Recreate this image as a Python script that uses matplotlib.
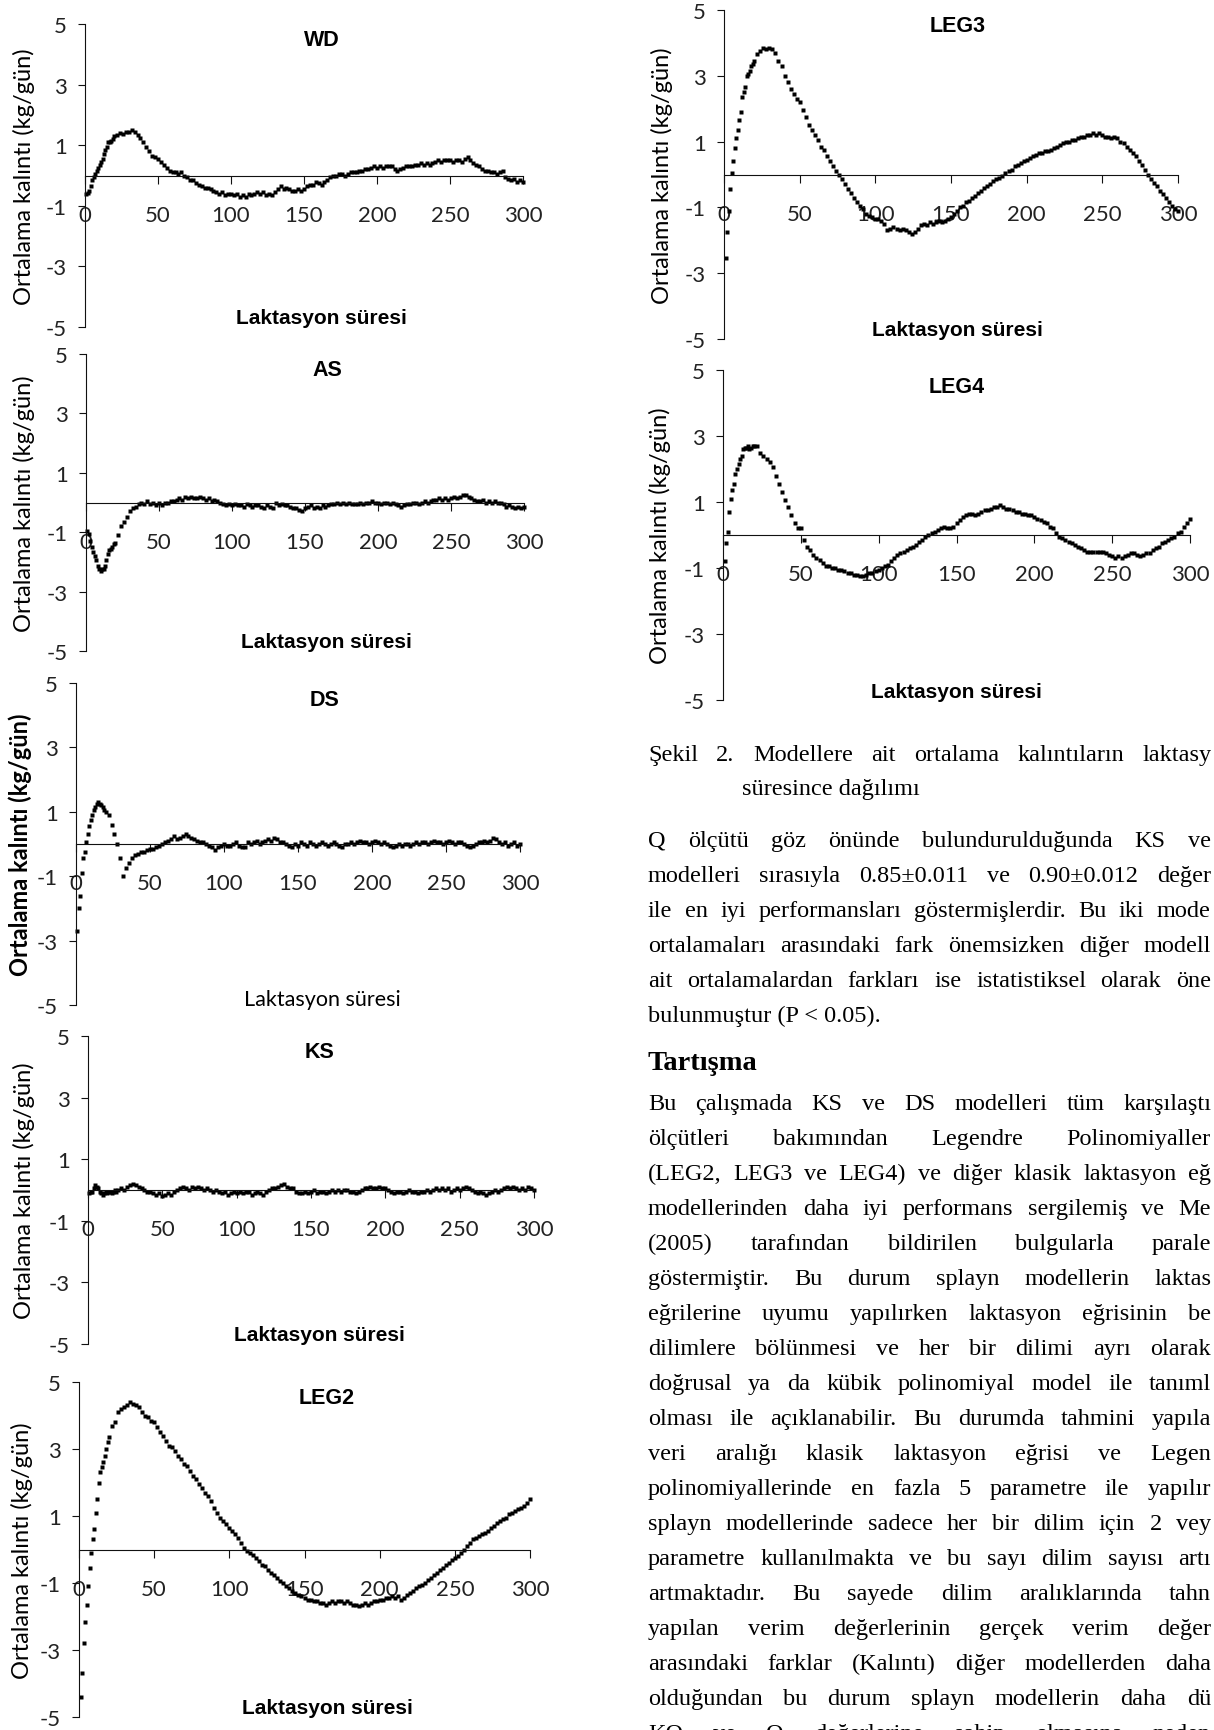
import matplotlib
matplotlib.use("Agg")
import matplotlib.pyplot as plt
import numpy as np
from matplotlib.font_manager import FontProperties
from matplotlib.textpath import TextToPath

plt.rcParams['axes.unicode_minus'] = False

W, H = 1214, 1731

# lactation day of each residual (daily up to day 20, then every second day)
days = list(range(1, 21)) + list(range(22, 301, 2))

wd = [-0.60, -0.58, -0.50, -0.35, -0.15, -0.05, 0.05, 0.15, 0.25, 0.35,
      0.45, 0.55, 0.70, 0.85, 0.95, 1.10, 1.12, 1.15, 1.20, 1.30,
      1.35, 1.40, 1.38, 1.42, 1.45, 1.50, 1.45, 1.35, 1.25, 1.10,
      0.95, 0.80, 0.65, 0.60, 0.55, 0.45, 0.35, 0.25, 0.15, 0.10,
      0.10, 0.05, 0.10, 0.00, -0.05, -0.15, -0.15, -0.25, -0.30, -0.35,
      -0.40, -0.40, -0.45, -0.50, -0.55, -0.60, -0.55, -0.65, -0.60, -0.60,
      -0.65, -0.60, -0.70, -0.65, -0.70, -0.60, -0.65, -0.60, -0.55, -0.60,
      -0.55, -0.65, -0.60, -0.65, -0.55, -0.45, -0.35, -0.45, -0.40, -0.45,
      -0.50, -0.50, -0.45, -0.50, -0.45, -0.35, -0.30, -0.30, -0.20, -0.25,
      -0.30, -0.20, -0.15, -0.05, 0.00, 0.00, 0.05, 0.05, 0.00, 0.05,
      0.10, 0.10, 0.10, 0.15, 0.15, 0.20, 0.20, 0.25, 0.30, 0.25,
      0.30, 0.25, 0.30, 0.30, 0.30, 0.20, 0.15, 0.20, 0.25, 0.30,
      0.30, 0.30, 0.35, 0.35, 0.40, 0.35, 0.40, 0.35, 0.40, 0.45,
      0.50, 0.45, 0.50, 0.50, 0.50, 0.45, 0.50, 0.50, 0.45, 0.55,
      0.60, 0.50, 0.40, 0.35, 0.30, 0.20, 0.15, 0.15, 0.10, 0.10,
      0.05, 0.10, 0.15, -0.05, -0.10, -0.15, -0.10, -0.20, -0.15, -0.20]

as_ = [-0.95, -1.05, -1.30, -1.50, -1.65, -1.80, -1.95, -2.15, -2.25, -2.30,
       -2.25, -2.25, -2.15, -1.95, -1.75, -1.60, -1.55, -1.50, -1.40, -1.35,
       -1.10, -0.80, -0.65, -0.50, -0.30, -0.20, -0.15, -0.05, 0.00, -0.05,
       0.05, -0.05, 0.00, -0.10, 0.00, -0.10, 0.00, 0.00, 0.05, 0.05,
       0.10, 0.15, 0.10, 0.20, 0.15, 0.20, 0.15, 0.15, 0.20, 0.15,
       0.10, 0.15, 0.05, 0.10, 0.05, 0.00, -0.05, -0.10, -0.05, -0.10,
       -0.05, -0.10, -0.10, -0.15, -0.05, -0.10, -0.15, -0.10, -0.10, -0.15,
       -0.20, -0.10, -0.15, -0.20, 0.00, -0.10, -0.05, -0.10, -0.10, -0.15,
       -0.20, -0.20, -0.25, -0.30, -0.20, -0.15, -0.10, -0.20, -0.15, -0.20,
       -0.10, -0.15, -0.10, -0.05, -0.05, 0.00, -0.05, 0.00, -0.05, 0.00,
       -0.05, -0.05, -0.05, 0.00, -0.05, 0.00, 0.00, 0.05, 0.00, 0.00,
       -0.05, 0.00, 0.00, -0.05, 0.00, -0.05, -0.10, -0.15, -0.10, -0.05,
       -0.05, 0.00, 0.00, -0.05, 0.00, 0.05, 0.00, 0.05, 0.10, 0.10,
       0.15, 0.10, 0.15, 0.10, 0.15, 0.20, 0.15, 0.20, 0.25, 0.25,
       0.20, 0.15, 0.10, 0.05, 0.05, 0.10, 0.00, 0.05, 0.00, 0.05,
       0.00, 0.00, -0.05, -0.15, -0.10, -0.15, -0.20, -0.15, -0.20, -0.15]

ds = [-2.70, -2.00, -1.60, -0.90, -0.45, -0.25, 0.05, 0.30, 0.55, 0.75,
      0.90, 1.05, 1.15, 1.25, 1.30, 1.25, 1.20, 1.15, 1.05, 1.00,
      0.90, 0.60, 0.30, 0.00, -0.45, -1.00, -0.75, -0.60, -0.45, -0.35,
      -0.30, -0.25, -0.25, -0.20, -0.15, -0.15, -0.10, -0.05, 0.00, 0.05,
      0.10, 0.15, 0.25, 0.15, 0.20, 0.25, 0.30, 0.25, 0.20, 0.15,
      0.10, 0.05, 0.05, 0.00, -0.05, -0.10, -0.20, -0.10, -0.05, 0.00,
      -0.05, -0.05, 0.00, 0.05, -0.05, -0.10, -0.10, 0.05, 0.00, 0.05,
      0.10, 0.00, 0.05, 0.10, 0.15, 0.10, 0.20, 0.15, 0.05, 0.05,
      0.00, -0.05, -0.10, 0.00, -0.05, 0.05, 0.00, -0.05, 0.05, 0.00,
      -0.05, 0.00, 0.05, 0.00, -0.05, 0.00, 0.05, 0.00, -0.05, -0.10,
      0.00, 0.00, 0.05, 0.00, 0.05, 0.10, 0.05, 0.05, 0.00, 0.05,
      0.10, 0.05, 0.00, 0.05, 0.00, -0.05, -0.10, -0.05, 0.00, -0.05,
      0.00, 0.00, -0.05, 0.00, 0.05, 0.00, 0.05, 0.05, 0.00, 0.05,
      0.10, 0.05, 0.05, 0.00, 0.05, 0.10, 0.05, 0.00, 0.05, 0.05,
      0.00, -0.05, -0.10, -0.05, 0.00, 0.05, 0.05, 0.10, 0.05, 0.10,
      0.20, 0.15, 0.05, 0.00, 0.05, -0.05, 0.00, 0.05, -0.05, 0.00]

ks = [-0.10, -0.05, -0.05, 0.05, 0.15, 0.10, 0.05, -0.05, -0.10, -0.15,
      -0.10, -0.05, -0.10, -0.05, -0.05, -0.10, -0.05, 0.00, -0.05, 0.00,
      0.05, 0.00, 0.10, 0.15, 0.20, 0.15, 0.10, 0.05, 0.00, -0.05,
      -0.05, -0.10, -0.15, -0.10, -0.20, -0.15, -0.10, -0.15, -0.05, 0.00,
      0.05, 0.10, 0.05, 0.00, 0.10, 0.05, 0.10, 0.05, 0.00, 0.05,
      0.00, -0.05, 0.00, -0.05, -0.10, -0.05, -0.15, -0.10, -0.05, -0.10,
      -0.05, -0.10, -0.05, -0.05, -0.15, -0.10, -0.05, -0.10, -0.15, -0.05,
      0.00, 0.05, 0.05, 0.10, 0.15, 0.20, 0.10, 0.05, 0.05, -0.05,
      -0.10, -0.10, -0.05, -0.10, -0.05, 0.00, -0.10, -0.05, -0.05, -0.10,
      -0.05, 0.00, -0.05, 0.00, -0.05, 0.00, 0.00, -0.05, -0.05, -0.10,
      -0.05, 0.00, 0.05, 0.05, 0.10, 0.05, 0.05, 0.10, 0.05, 0.05,
      0.00, -0.05, -0.10, -0.05, -0.05, -0.10, -0.05, 0.00, -0.05, -0.05,
      -0.10, -0.05, -0.05, 0.00, -0.05, 0.00, 0.05, 0.00, 0.05, 0.00,
      0.05, -0.05, 0.00, 0.05, 0.00, 0.05, 0.10, 0.05, 0.00, -0.05,
      -0.10, -0.05, -0.10, -0.15, -0.10, -0.05, 0.00, -0.05, 0.00, 0.05,
      0.10, 0.05, 0.10, 0.05, 0.00, 0.05, 0.00, 0.10, 0.05, 0.00]

leg2 = [-4.40, -3.70, -2.80, -2.15, -1.65, -1.10, -0.55, -0.10, 0.30, 0.60,
        1.10, 1.50, 2.00, 2.30, 2.45, 2.60, 2.80, 3.00, 3.20, 3.35,
        3.70, 3.80, 4.10, 4.20, 4.25, 4.30, 4.40, 4.35, 4.30, 4.25,
        4.10, 4.00, 3.95, 3.85, 3.80, 3.65, 3.50, 3.40, 3.25, 3.10,
        3.05, 2.95, 2.80, 2.70, 2.55, 2.50, 2.35, 2.20, 2.10, 1.95,
        1.85, 1.70, 1.60, 1.45, 1.25, 1.10, 0.95, 0.85, 0.75, 0.65,
        0.55, 0.45, 0.35, 0.20, 0.05, -0.05, -0.10, -0.15, -0.25, -0.35,
        -0.45, -0.50, -0.60, -0.70, -0.75, -0.85, -0.95, -1.00, -1.10, -1.15,
        -1.25, -1.30, -1.35, -1.40, -1.45, -1.50, -1.50, -1.55, -1.55, -1.60,
        -1.60, -1.65, -1.60, -1.55, -1.60, -1.55, -1.55, -1.60, -1.55, -1.60,
        -1.65, -1.65, -1.70, -1.65, -1.60, -1.65, -1.60, -1.55, -1.55, -1.50,
        -1.50, -1.45, -1.45, -1.40, -1.45, -1.40, -1.50, -1.45, -1.35, -1.30,
        -1.25, -1.15, -1.10, -1.05, -1.00, -0.90, -0.85, -0.75, -0.70, -0.60,
        -0.55, -0.45, -0.40, -0.30, -0.25, -0.20, -0.10, 0.00, 0.10, 0.20,
        0.30, 0.35, 0.40, 0.45, 0.50, 0.55, 0.65, 0.70, 0.80, 0.85,
        0.90, 0.95, 1.05, 1.10, 1.15, 1.20, 1.25, 1.30, 1.40, 1.50]

leg3 = [-2.55, -1.75, -1.10, -0.45, 0.05, 0.40, 0.80, 1.10, 1.35, 1.65,
        1.90, 2.35, 2.50, 2.65, 3.00, 3.05, 3.15, 3.30, 3.35, 3.45,
        3.65, 3.75, 3.85, 3.80, 3.85, 3.80, 3.70, 3.45, 3.30, 3.00,
        2.80, 2.60, 2.45, 2.30, 2.20, 1.95, 1.75, 1.50, 1.35, 1.20,
        1.05, 0.85, 0.75, 0.55, 0.40, 0.25, 0.10, 0.00, -0.15, -0.30,
        -0.45, -0.55, -0.70, -0.85, -0.95, -1.05, -1.20, -1.25, -1.30, -1.35,
        -1.35, -1.40, -1.50, -1.70, -1.65, -1.60, -1.65, -1.70, -1.65, -1.70,
        -1.75, -1.80, -1.75, -1.65, -1.55, -1.50, -1.55, -1.45, -1.50, -1.45,
        -1.40, -1.45, -1.40, -1.35, -1.30, -1.20, -1.10, -1.00, -0.95, -0.85,
        -0.80, -0.70, -0.65, -0.55, -0.50, -0.40, -0.35, -0.30, -0.20, -0.15,
        -0.10, -0.05, 0.05, 0.10, 0.15, 0.25, 0.30, 0.35, 0.40, 0.45,
        0.50, 0.55, 0.60, 0.65, 0.65, 0.70, 0.70, 0.75, 0.80, 0.85,
        0.90, 0.95, 1.00, 1.00, 1.05, 1.05, 1.10, 1.15, 1.15, 1.20,
        1.20, 1.25, 1.20, 1.25, 1.20, 1.15, 1.15, 1.10, 1.15, 1.10,
        1.00, 0.95, 0.85, 0.75, 0.65, 0.55, 0.40, 0.30, 0.15, 0.00,
        -0.15, -0.25, -0.35, -0.50, -0.60, -0.70, -0.85, -0.95, -1.05, -1.10]

leg4 = [-0.80, -0.25, 0.10, 0.70, 1.10, 1.35, 1.55, 1.85, 2.00, 2.15,
        2.30, 2.40, 2.60, 2.65, 2.65, 2.70, 2.60, 2.65, 2.70, 2.70,
        2.70, 2.50, 2.40, 2.30, 2.20, 2.05, 1.80, 1.55, 1.30, 1.05,
        0.85, 0.60, 0.35, 0.20, 0.20, -0.15, -0.35, -0.45, -0.60, -0.70,
        -0.75, -0.85, -0.95, -0.95, -1.00, -1.00, -1.05, -1.05, -1.10, -1.15,
        -1.15, -1.20, -1.20, -1.25, -1.25, -1.20, -1.15, -1.15, -1.10, -1.05,
        -1.00, -0.95, -0.90, -0.80, -0.70, -0.60, -0.55, -0.50, -0.45, -0.40,
        -0.35, -0.30, -0.20, -0.15, -0.05, 0.00, 0.05, 0.10, 0.15, 0.20,
        0.25, 0.20, 0.20, 0.25, 0.35, 0.45, 0.55, 0.60, 0.65, 0.65,
        0.60, 0.65, 0.70, 0.75, 0.75, 0.80, 0.85, 0.85, 0.90, 0.85,
        0.80, 0.80, 0.75, 0.70, 0.70, 0.65, 0.65, 0.60, 0.60, 0.55,
        0.50, 0.45, 0.40, 0.35, 0.25, 0.20, 0.05, -0.05, -0.10, -0.15,
        -0.20, -0.25, -0.30, -0.35, -0.40, -0.45, -0.50, -0.50, -0.50, -0.50,
        -0.50, -0.50, -0.55, -0.60, -0.65, -0.70, -0.65, -0.70, -0.65, -0.60,
        -0.55, -0.55, -0.60, -0.65, -0.60, -0.55, -0.55, -0.45, -0.40, -0.35,
        -0.25, -0.20, -0.15, -0.10, -0.05, 0.05, 0.10, 0.25, 0.35, 0.50]

x_ticks = [0, 50, 100, 150, 200, 250, 300]
y_ticks = [-5, -3, -1, 1, 3, 5]
ylabel = "Ortalama kalıntı (kg/gün)"
xlabel = "Laktasyon süresi"

# the right column of the page, as much of each line as the page shows
caption = ["Şekil 2. Modellere ait ortalama kalıntıların laktasy",
           "süresince dağılımı"]
para1 = ["Q ölçütü göz önünde bulundurulduğunda KS ve",
         "modelleri sırasıyla 0.85±0.011 ve 0.90±0.012 değer",
         "ile en iyi performansları göstermişlerdir. Bu iki mode",
         "ortalamaları arasındaki fark önemsizken diğer modell",
         "ait ortalamalardan farkları ise istatistiksel olarak öne",
         "bulunmuştur (P < 0.05)."]
heading = "Tartışma"
para2 = ["Bu çalışmada KS ve DS modelleri tüm karşılaştı",
         "ölçütleri bakımından Legendre Polinomiyaller",
         "(LEG2, LEG3 ve LEG4) ve diğer klasik laktasyon eğ",
         "modellerinden daha iyi performans sergilemiş ve Me",
         "(2005) tarafından bildirilen bulgularla parale",
         "göstermiştir. Bu durum splayn modellerin laktas",
         "eğrilerine uyumu yapılırken laktasyon eğrisinin be",
         "dilimlere bölünmesi ve her bir dilimi ayrı olarak",
         "doğrusal ya da kübik polinomiyal model ile tanıml",
         "olması ile açıklanabilir. Bu durumda tahmini yapıla",
         "veri aralığı klasik laktasyon eğrisi ve Legen",
         "polinomiyallerinde en fazla 5 parametre ile yapılır",
         "splayn modellerinde sadece her bir dilim için 2 vey",
         "parametre kullanılmakta ve bu sayı dilim sayısı artı",
         "artmaktadır. Bu sayede dilim aralıklarında tahn",
         "yapılan verim değerlerinin gerçek verim değer",
         "arasındaki farklar (Kalıntı) diğer modellerden daha",
         "olduğundan bu durum splayn modellerin daha dü",
         "KQ ve Q değerlerine sahip olmasına neden"]

# panel layout in pixels: left, right, top (y=5), bottom (y=-5), title x fraction, ylabel x
panels = [
    ("WD", wd, 85, 523, 25, 328, 0.54, 24),
    ("AS", as_, 86, 524, 355, 652, 0.55, 24),
    ("DS", ds, 76, 520, 684, 1006, 0.56, 20),
    ("KS", ks, 88, 534, 1037, 1345, 0.52, 24),
    ("LEG2", leg2, 79, 530, 1383, 1718, 0.55, 22),
    ("LEG3", leg3, 724, 1178, 11, 340, 0.515, 662),
    ("LEG4", leg4, 723, 1190, 371, 701, 0.50, 660),
]

fig = plt.figure(figsize=(W / 100, H / 100), dpi=100)

for name, vals, left, right, top, bottom, tx, yl_x in panels:
    ax = fig.add_axes([left / W, 1 - bottom / H, (right - left) / W, (bottom - top) / H])
    ax.spines[['top', 'right']].set_visible(False)
    ax.spines['bottom'].set_position(('data', 0))
    x = np.array(days[:len(vals)])
    ax.plot(x, vals, ls='none', marker='s', ms=2.4, mec='none', mfc='black', clip_on=False)
    ax.set_xlim(0, 300)
    ax.set_ylim(-5, 5)
    ax.set_xticks(x_ticks)
    ax.set_yticks(y_ticks)
    ax.set_xticklabels([str(v) for v in x_ticks], fontfamily='Lato', fontsize=16, color='#222222')
    ax.set_yticklabels([str(v) for v in y_ticks], fontfamily='Lato', fontsize=16, color='#222222')
    for s in ('left', 'bottom'):
        ax.spines[s].set_linewidth(0.8)
        ax.spines[s].set_color('#111111')
    ax.tick_params(axis='x', direction='out', length=6, width=0.8, pad=15, color='#111111')
    ax.tick_params(axis='y', direction='out', length=5, width=0.8, pad=8, color='#111111')
    ax.patch.set_visible(False)

    ax.text(tx, 1 - 16 / (bottom - top), name, transform=ax.transAxes, ha='center', va='center',
            fontfamily='Liberation Sans', fontweight='bold', fontsize=15.5)
    if name == "DS":
        ax.text(0.555, 6 / (bottom - top), xlabel, transform=ax.transAxes, ha='center', va='center',
                fontfamily='Lato', fontsize=15.5)
    else:
        ax.text(tx, 9 / (bottom - top), xlabel, transform=ax.transAxes, ha='center', va='center',
                fontfamily='Liberation Sans', fontweight='bold', fontsize=15)
    fig.text(yl_x / W, 1 - (top + bottom) / 2 / H, ylabel, rotation=90, ha='center', va='center',
             fontfamily='Lato', fontsize=17, fontweight='bold' if name == "DS" else 'normal')

# right column text, justified out to the page edge where the page cuts it
t2p = TextToPath()
body = FontProperties(family='Liberation Serif', size=17.5)
bold_head = FontProperties(family='Liberation Serif', size=20.5, weight='bold')
col_left, col_right = 648, 1211


def width_px(s, prop):
    w, _, _ = t2p.get_text_width_height_descent(s, prop, ismath=False)
    return w * 100 / 72


def put_line(line, y, x0=col_left, justify=True):
    words = line.split(' ')
    if not justify or len(words) < 2:
        fig.text(x0 / W, 1 - y / H, line, fontproperties=body, va='baseline', ha='left')
        return
    ws = [width_px(w, body) for w in words]
    gap = (col_right - x0 - sum(ws)) / (len(words) - 1)
    x = x0
    for w, wpx in zip(words, ws):
        fig.text(x / W, 1 - y / H, w, fontproperties=body, va='baseline', ha='left')
        x += wpx + gap


step = 35
put_line(caption[0], 761)
put_line(caption[1], 795, x0=col_left + 94, justify=False)
for i, line in enumerate(para1):
    put_line(line, 847 + i * step, justify=(i < len(para1) - 1))
fig.text(col_left / W, 1 - 1070 / H, heading, fontproperties=bold_head, va='baseline', ha='left')
for i, line in enumerate(para2):
    put_line(line, 1110 + i * step)

fig.savefig('out.png', dpi=100)
plt.close(fig)
